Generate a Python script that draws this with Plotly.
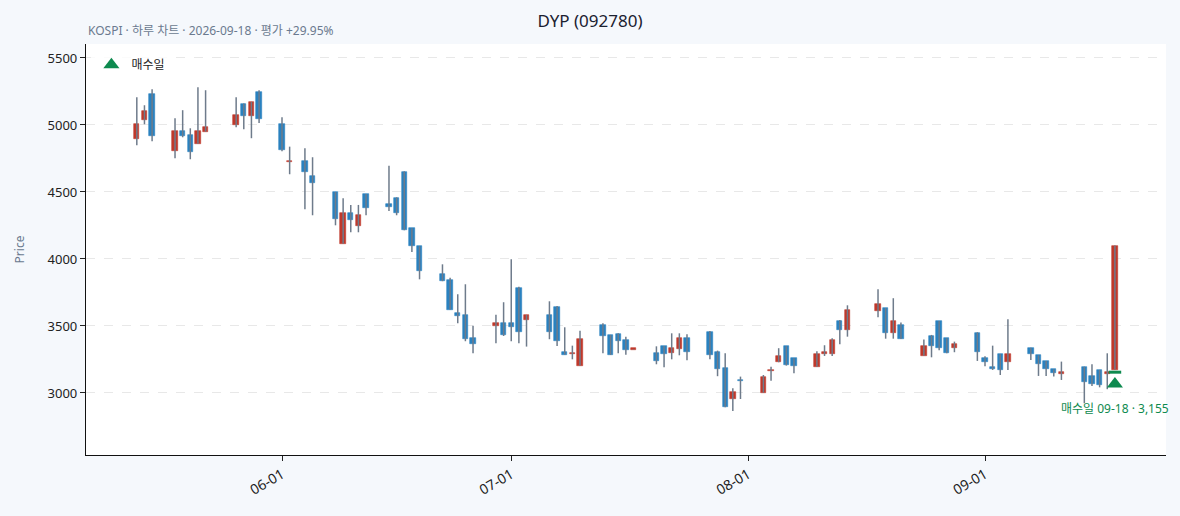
import plotly.graph_objects as go

# daily candles (KOSPI, 092780)
dates = ["2026-05-13", "2026-05-14", "2026-05-15", "2026-05-18", "2026-05-19", "2026-05-20", "2026-05-21", "2026-05-22",
         "2026-05-26", "2026-05-27", "2026-05-28", "2026-05-29", "2026-06-01", "2026-06-02", "2026-06-04", "2026-06-05",
         "2026-06-08", "2026-06-09", "2026-06-10", "2026-06-11", "2026-06-12", "2026-06-15", "2026-06-16", "2026-06-17",
         "2026-06-18", "2026-06-19", "2026-06-22", "2026-06-23", "2026-06-24", "2026-06-25", "2026-06-26", "2026-06-29",
         "2026-06-30", "2026-07-01", "2026-07-02", "2026-07-03", "2026-07-06", "2026-07-07", "2026-07-08", "2026-07-09",
         "2026-07-10", "2026-07-13", "2026-07-14", "2026-07-15", "2026-07-16", "2026-07-17", "2026-07-20", "2026-07-21",
         "2026-07-22", "2026-07-23", "2026-07-24", "2026-07-27", "2026-07-28", "2026-07-29", "2026-07-30", "2026-07-31",
         "2026-08-03", "2026-08-04", "2026-08-05", "2026-08-06", "2026-08-07", "2026-08-10", "2026-08-11", "2026-08-12",
         "2026-08-13", "2026-08-14", "2026-08-18", "2026-08-19", "2026-08-20", "2026-08-21", "2026-08-24", "2026-08-25",
         "2026-08-26", "2026-08-27", "2026-08-28", "2026-08-31", "2026-09-01", "2026-09-02", "2026-09-03", "2026-09-04",
         "2026-09-07", "2026-09-08", "2026-09-09", "2026-09-10", "2026-09-11", "2026-09-14", "2026-09-15", "2026-09-16",
         "2026-09-17", "2026-09-18"]
opens = [4898, 5037, 5231, 4808, 4955, 4925, 4860, 4950,
         5002, 5157, 5070, 5246, 5007, 4725, 4731, 4619,
         4500, 4114, 4343, 4249, 4485, 4410, 4453, 4647,
         4229, 4095, 3886, 3843, 3597, 3582, 3413, 3502,
         3522, 3522, 3784, 3547, 3582, 3640, 3306, 3288,
         3204, 3507, 3433, 3440, 3396, 3324, 3299, 3351,
         3296, 3331, 3408, 3453, 3308, 3184, 2953, 3097,
         3002, 3163, 3229, 3349, 3259, 3196, 3294, 3293,
         3537, 3472, 3614, 3634, 3450, 3507, 3278, 3423,
         3537, 3408, 3338, 3445, 3261, 3192, 3291, 3234,
         3338, 3281, 3239, 3177, 3145, 3196, 3129, 3172,
         3145, 3175]
highs = [5207, 5147, 5266, 5050, 5110, 4975, 5281, 5259,
         5207, 5160, 5172, 5259, 5057, 4838, 4826, 4759,
         4500, 4453, 4403, 4403, 4485, 4696, 4460, 4654,
         4229, 4095, 3960, 3860, 3737, 3811, 3502, 3584,
         3677, 3998, 3793, 3582, 3684, 3649, 3490, 3353,
         3465, 3520, 3433, 3445, 3420, 3328, 3348, 3351,
         3445, 3445, 3438, 3463, 3316, 3296, 3035, 3122,
         3134, 3196, 3334, 3349, 3259, 3311, 3356, 3408,
         3545, 3654, 3774, 3634, 3707, 3525, 3398, 3433,
         3537, 3408, 3383, 3453, 3274, 3353, 3291, 3550,
         3338, 3281, 3239, 3177, 3234, 3196, 3214, 3172,
         3296, 4100]
lows = [4848, 5005, 4878, 4751, 4908, 4744, 4860, 4950,
        4983, 4968, 4901, 5015, 4804, 4632, 4371, 4326,
        4251, 4114, 4199, 4199, 4326, 4358, 4326, 4214,
        4052, 3848, 3834, 3622, 3520, 3386, 3296, 3371,
        3425, 3386, 3371, 3346, 3401, 3351, 3286, 3251,
        3204, 3296, 3284, 3296, 3286, 3324, 3214, 3192,
        3251, 3281, 3244, 3251, 3125, 2893, 2866, 2955,
        3002, 3092, 3229, 3204, 3147, 3196, 3276, 3276,
        3363, 3420, 3565, 3405, 3405, 3403, 3278, 3266,
        3318, 3296, 3304, 3239, 3199, 3172, 3134, 3172,
        3246, 3127, 3127, 3122, 3097, 2923, 3052, 3042,
        3028, 3175]
closes = [5007, 5104, 4920, 4955, 4920, 4801, 4955, 4983,
          5072, 5070, 5172, 5047, 4816, 4730, 4652, 4569,
          4301, 4343, 4293, 4328, 4383, 4386, 4341, 4214,
          4099, 3913, 3838, 3622, 3577, 3403, 3368, 3522,
          3435, 3495, 3458, 3582, 3458, 3390, 3286, 3292,
          3401, 3428, 3284, 3390, 3323, 3328, 3241, 3289,
          3334, 3408, 3304, 3286, 3177, 2893, 3005, 3087,
          3117, 3168, 3274, 3211, 3199, 3291, 3298, 3393,
          3472, 3617, 3664, 3450, 3535, 3403, 3349, 3353,
          3338, 3296, 3363, 3304, 3234, 3181, 3169, 3291,
          3289, 3214, 3177, 3147, 3149, 3084, 3067, 3060,
          3149, 4100]

buy_date = "2026-09-18"
buy_price = 3155
month_ticks = ["2026-06-01", "2026-07-01", "2026-08-01", "2026-09-01"]

RED = "#c0392b"
BLUE = "#2a82c0"
WICK = "#6e7b8b"
GREEN = "#0e8a4f"
BG = "#f5f8fc"
FONT = "Noto Sans, Noto Sans CJK KR, sans-serif"

# wicks as one line trace, bodies as floating bars
wx, wy = [], []
for d, h, l in zip(dates, highs, lows):
    wx += [d, d, None]
    wy += [l, h, None]

body_base = [min(o, c) for o, c in zip(opens, closes)]
body_h = [max(abs(c - o), 8) for o, c in zip(opens, closes)]
body_col = [RED if c >= o else BLUE for o, c in zip(opens, closes)]

fig = go.Figure()
fig.add_trace(go.Scatter(x=wx, y=wy, mode="lines", line=dict(color=WICK, width=1.5),
                         showlegend=False, hoverinfo="skip"))
fig.add_trace(go.Bar(x=dates, y=body_h, base=body_base, width=0.7 * 86400000,
                     marker=dict(color=body_col, line=dict(color=body_col, width=0.6)),
                     showlegend=False))
# buy price tick
fig.add_trace(go.Scatter(x=[buy_date], y=[buy_price], mode="markers",
                         marker=dict(symbol="line-ew", size=9, line=dict(color=GREEN, width=3)),
                         showlegend=False))
# buy day marker
fig.add_trace(go.Scatter(x=[buy_date], y=[buy_price * 0.972], mode="markers", name="매수일",
                         marker=dict(symbol="triangle-up", size=14, color=GREEN)))

fig.add_annotation(x=buy_date, y=buy_price * 0.972, text="매수일 09-18 · 3,155", showarrow=False,
                   yshift=-24, font=dict(size=12, color=GREEN, family=FONT))
fig.add_annotation(xref="paper", yref="paper", x=0, y=1, yshift=3, xanchor="left", yanchor="bottom",
                   text="KOSPI · 하루 차트 · 2026-09-18 · 평가 +29.95%", showarrow=False,
                   font=dict(size=12, color="#6b7a8f", family=FONT))

fig.update_layout(
    width=1180, height=516,
    title=dict(text="DYP (092780)", x=0.5, xanchor="center", y=0.96, yanchor="middle",
               font=dict(size=17, color="#1b2130", family=FONT)),
    paper_bgcolor=BG, plot_bgcolor="white",
    margin=dict(l=86, r=14, t=44, b=61),
    font=dict(family=FONT, size=13, color="#222"),
    bargap=0,
    legend=dict(x=0.005, y=0.985, xanchor="left", yanchor="top", bgcolor="rgba(255,255,255,0.8)",
                font=dict(size=12, color="#222")),
)
fig.update_xaxes(type="date", range=["2026-05-06 08:24", "2026-09-24 16:30"],
                 tickvals=month_ticks, tickformat="%m-%d", tickangle=-30,
                 ticks="outside", ticklen=5, tickcolor="#222", showline=True, linecolor="#111",
                 linewidth=1.2, showgrid=False, tickfont=dict(size=14))
fig.update_yaxes(range=[2537, 5604], dtick=500, ticks="outside", ticklen=5, tickcolor="#222",
                 showline=True, linecolor="#111", linewidth=1.2,
                 gridcolor="#e8e8e8", griddash="dash", zeroline=False,
                 title=dict(text="Price", font=dict(size=12, color="#6b7a8f"), standoff=20),
                 tickfont=dict(size=13))

fig.write_html("out.html", config={"displayModeBar": False},
               post_script="document.body.style.margin='0';document.body.style.background='%s';" % BG)
